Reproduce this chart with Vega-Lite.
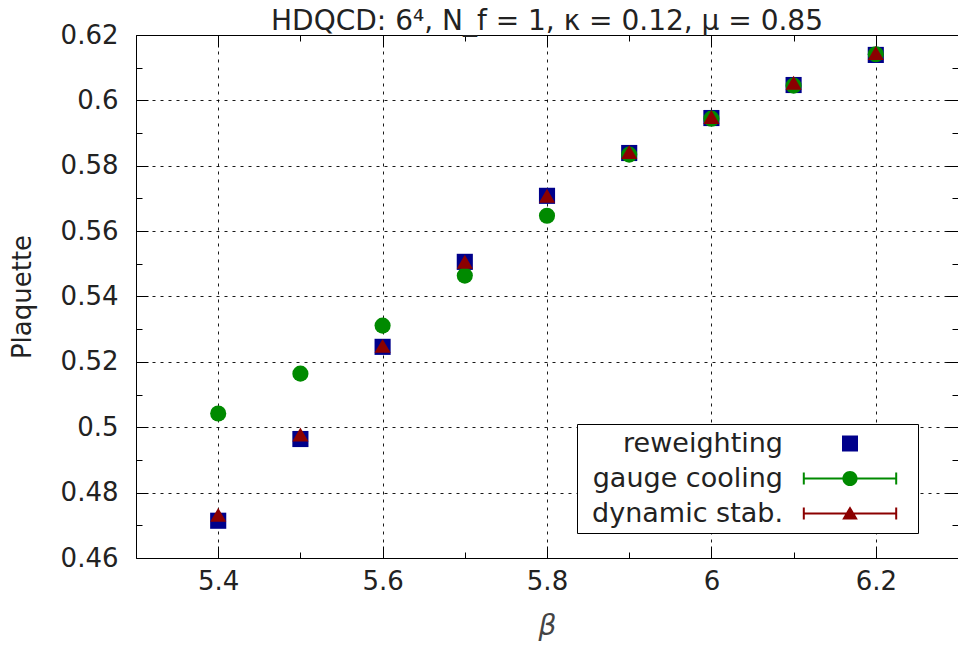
{
  "$schema": "https://vega.github.io/schema/vega-lite/v6.json",
  "width": 822,
  "height": 523,
  "autosize": {"type": "none"},
  "padding": {"left": 136, "top": 35, "right": 0, "bottom": 99},
  "background": "white",
  "config": {"view": {"stroke": "black", "strokeWidth": 1}, "font": "DejaVu Sans"},
  "title": {"text": "HDQCD: 6⁴, N_f = 1, κ = 0.12, μ = 0.85", "fontSize": 28, "fontWeight": "normal", "font": "DejaVu Sans", "color": "#222", "offset": 4, "dy": 18},
  "data": {"values": [
    {"series": "reweighting", "beta": 5.4, "plaquette": 0.4714},
    {"series": "reweighting", "beta": 5.5, "plaquette": 0.4964},
    {"series": "reweighting", "beta": 5.6, "plaquette": 0.5246},
    {"series": "reweighting", "beta": 5.7, "plaquette": 0.5506},
    {"series": "reweighting", "beta": 5.8, "plaquette": 0.5708},
    {"series": "reweighting", "beta": 5.9, "plaquette": 0.5839},
    {"series": "reweighting", "beta": 6.0, "plaquette": 0.5946},
    {"series": "reweighting", "beta": 6.1, "plaquette": 0.6047},
    {"series": "reweighting", "beta": 6.2, "plaquette": 0.6139},
    {"series": "gauge cooling", "beta": 5.4, "plaquette": 0.5042},
    {"series": "gauge cooling", "beta": 5.5, "plaquette": 0.5164},
    {"series": "gauge cooling", "beta": 5.6, "plaquette": 0.5311},
    {"series": "gauge cooling", "beta": 5.7, "plaquette": 0.5464},
    {"series": "gauge cooling", "beta": 5.8, "plaquette": 0.5647},
    {"series": "gauge cooling", "beta": 5.9, "plaquette": 0.5834},
    {"series": "gauge cooling", "beta": 6.0, "plaquette": 0.5944},
    {"series": "gauge cooling", "beta": 6.1, "plaquette": 0.6045},
    {"series": "gauge cooling", "beta": 6.2, "plaquette": 0.6141},
    {"series": "dynamic stab.", "beta": 5.4, "plaquette": 0.4732},
    {"series": "dynamic stab.", "beta": 5.5, "plaquette": 0.4978},
    {"series": "dynamic stab.", "beta": 5.6, "plaquette": 0.5249},
    {"series": "dynamic stab.", "beta": 5.7, "plaquette": 0.5506},
    {"series": "dynamic stab.", "beta": 5.8, "plaquette": 0.5708},
    {"series": "dynamic stab.", "beta": 5.9, "plaquette": 0.5842},
    {"series": "dynamic stab.", "beta": 6.0, "plaquette": 0.5949},
    {"series": "dynamic stab.", "beta": 6.1, "plaquette": 0.6054},
    {"series": "dynamic stab.", "beta": 6.2, "plaquette": 0.6145}
  ]},
  "layer": [
    {
      "mark": {"type": "point", "filled": true, "opacity": 1, "size": 260},
      "encoding": {
        "x": {
          "field": "beta", "type": "quantitative",
          "scale": {"domain": [5.3, 6.3], "nice": false, "zero": false},
          "axis": {
            "orient": "bottom",
            "values": [5.4, 5.5, 5.6, 5.7, 5.8, 5.9, 6.0, 6.1, 6.2],
            "labelExpr": "round(datum.value*10) % 2 == 0 ? '' + datum.value : ''",
            "tickSize": {"condition": {"test": "round(datum.value*10) % 2 == 0", "value": -12}, "value": -6},
            "tickColor": "black",
            "grid": true,
            "gridColor": "black",
            "gridDash": [3, 5],
            "gridOpacity": {"condition": {"test": "round(datum.value*10) % 2 == 1", "value": 0}, "value": 0.9},
            "domain": false,
            "labelFontSize": 26,
            "labelColor": "#222",
            "labelPadding": 22,
            "labelFlush": false,
            "labelOverlap": false,
            "title": "β",
            "titleFontStyle": "italic",
            "titleFontWeight": "normal",
            "titleFontSize": 28,
            "titleColor": "#444",
            "titlePadding": 12
          }
        },
        "y": {
          "field": "plaquette", "type": "quantitative",
          "scale": {"domain": [0.46, 0.62], "nice": false, "zero": false},
          "axis": {
            "orient": "left",
            "values": [0.46, 0.47, 0.48, 0.49, 0.5, 0.51, 0.52, 0.53, 0.54, 0.55, 0.56, 0.57, 0.58, 0.59, 0.6, 0.61, 0.62],
            "labelExpr": "round(datum.value*100) % 2 == 0 ? '' + datum.value : ''",
            "tickSize": {"condition": {"test": "round(datum.value*100) % 2 == 0", "value": -12}, "value": -6},
            "tickColor": "black",
            "grid": true,
            "gridColor": "black",
            "gridDash": [3, 5],
            "gridOpacity": {"condition": {"test": "round(datum.value*100) % 2 == 1", "value": 0}, "value": 0.9},
            "domain": false,
            "labelFontSize": 26,
            "labelColor": "#222",
            "labelPadding": 30,
            "labelFlush": false,
            "labelOverlap": false,
            "title": "Plaquette",
            "titleFontWeight": "normal",
            "titleFontSize": 26,
            "titleColor": "#222",
            "titlePadding": 25
          }
        },
        "color": {
          "field": "series", "type": "nominal",
          "scale": {"domain": ["reweighting", "gauge cooling", "dynamic stab."], "range": ["#00008b", "#008a00", "#8b0000"]},
          "legend": null
        },
        "shape": {
          "field": "series", "type": "nominal",
          "scale": {"domain": ["reweighting", "gauge cooling", "dynamic stab."], "range": ["square", "circle", "triangle-up"]},
          "legend": null
        }
      }
    },
    {
      "transform": [{"filter": "false"}],
      "mark": {"type": "point", "filled": true, "opacity": 1},
      "encoding": {
        "x": {
          "field": "beta", "type": "quantitative",
          "scale": {"domain": [5.3, 6.3], "nice": false, "zero": false},
          "axis": {
            "orient": "top",
            "values": [5.4, 5.5, 5.6, 5.7, 5.8, 5.9, 6.0, 6.1, 6.2],
            "labels": false,
            "grid": false,
            "domain": false,
            "title": null,
            "tickColor": "black",
            "tickSize": {"condition": {"test": "round(datum.value*10) % 2 == 0", "value": -12}, "value": -6}
          }
        },
        "y": {
          "field": "plaquette", "type": "quantitative",
          "scale": {"domain": [0.46, 0.62], "nice": false, "zero": false},
          "axis": {
            "orient": "right",
            "values": [0.46, 0.47, 0.48, 0.49, 0.5, 0.51, 0.52, 0.53, 0.54, 0.55, 0.56, 0.57, 0.58, 0.59, 0.6, 0.61, 0.62],
            "labels": false,
            "grid": false,
            "domain": false,
            "title": null,
            "tickColor": "black",
            "tickSize": {"condition": {"test": "round(datum.value*100) % 2 == 0", "value": -12}, "value": -6}
          }
        },
        "color": {
          "field": "series", "type": "nominal",
          "scale": {"domain": ["reweighting", "gauge cooling", "dynamic stab."], "range": ["#00008b", "#008a00", "#8b0000"]},
          "legend": {
            "orient": "none",
            "legendX": 441,
            "legendY": 389,
            "title": null,
            "labelFontSize": 27,
            "labelColor": "#222",
            "labelAlign": "right",
            "labelOffset": -80.5,
            "symbolOffset": 253.5,
            "symbolSize": 256,
            "symbolStrokeWidth": 0,
            "labelLimit": 400,
            "rowPadding": 7,
            "padding": 6,
            "strokeColor": "black",
            "fillColor": "white",
            "cornerRadius": 0
          }
        },
        "shape": {
          "field": "series", "type": "nominal",
          "scale": {
            "domain": ["reweighting", "gauge cooling", "dynamic stab."],
            "range": [
              "M-1,-1H1V1H-1Z",
              "M-5.9,-0.125H5.9V0.125H-5.9ZM-5.9,-0.75H-5.65V0.75H-5.9ZM5.65,-0.75H5.9V0.75H5.65ZM0.95,0A0.95,0.95,0,1,1,-0.95,0A0.95,0.95,0,1,1,0.95,0ZM7.75,0L7.75,0.01Z",
              "M-5.9,-0.125H5.9V0.125H-5.9ZM-5.9,-0.75H-5.65V0.75H-5.9ZM5.65,-0.75H5.9V0.75H5.65ZM0,-0.92L0.98,0.75L-0.98,0.75Z"
            ]
          },
          "legend": {
            "orient": "none",
            "legendX": 441,
            "legendY": 389,
            "title": null,
            "labelFontSize": 27,
            "labelColor": "#222",
            "labelAlign": "right",
            "labelOffset": -80.5,
            "symbolOffset": 253.5,
            "symbolSize": 256,
            "symbolStrokeWidth": 0,
            "labelLimit": 400,
            "rowPadding": 7,
            "padding": 6,
            "strokeColor": "black",
            "fillColor": "white",
            "cornerRadius": 0
          }
        }
      }
    }
  ],
  "resolve": {
    "axis": {"x": "independent", "y": "independent"},
    "scale": {"color": "independent", "shape": "independent"}
  }
}
